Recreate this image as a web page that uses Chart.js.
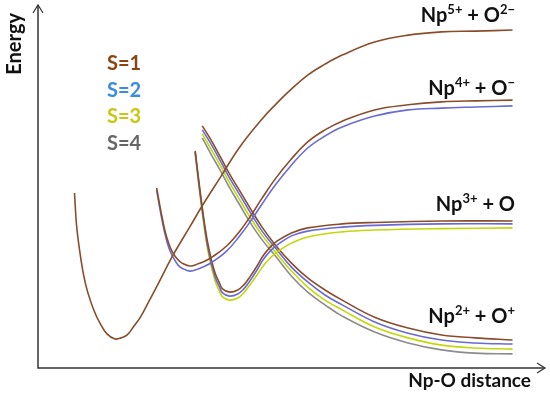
<!DOCTYPE html>
<html lang="en">
<head>
  <meta charset="UTF-8" />
  <title>Np-O potential energy curves</title>
  <script src="https://cdn.jsdelivr.net/npm/chart.js"></script>
  <style>
    body {
      margin: 0;
      background: #ffffff;
    }
    #wrap {
      width: 550px;
      height: 399px;
      position: relative;
    }
  </style>
</head>
<body>
  <div id="wrap"><canvas id="grafico"></canvas></div>

  <script>
    // Np-O distance (arbitrary units) and energy (arbitrary units)
    // Np5+ + O2- branch (S=1 only)
    const xNp5 = [1.36, 1.38, 1.41, 1.45, 1.49, 1.55, 1.61, 1.68, 1.76, 1.82, 1.88, 1.94, 2.01, 2.10, 2.20, 2.33, 2.50, 2.62, 2.80, 2.99, 3.21, 3.34, 3.49, 3.66, 3.83, 4.00, 4.32, 4.65, 4.98, 5.31, 5.68];
    const eNp5_S1 = [4.82, 3.94, 3.25, 2.56, 2.09, 1.60, 1.24, 0.94, 0.80, 0.83, 0.91, 1.13, 1.40, 1.87, 2.40, 3.10, 3.90, 4.47, 5.26, 6.09, 6.86, 7.25, 7.66, 8.07, 8.37, 8.62, 8.98, 9.17, 9.26, 9.28, 9.31];

    // Np4+ + O- branch (S=1, S=2)
    const xNp4 = [2.17, 2.21, 2.25, 2.29, 2.33, 2.38, 2.42, 2.50, 2.58, 2.65, 2.72, 2.86, 2.99, 3.09, 3.21, 3.34, 3.49, 3.66, 3.83, 4.00, 4.32, 4.65, 4.98, 5.31, 5.68];
    const eNp4_S1 = [4.96, 4.35, 3.80, 3.42, 3.17, 2.98, 2.89, 2.81, 2.87, 2.95, 3.06, 3.36, 3.77, 4.16, 4.68, 5.21, 5.73, 6.23, 6.56, 6.80, 7.11, 7.25, 7.33, 7.36, 7.38];
    const eNp4_S2 = [4.90, 4.27, 3.72, 3.31, 3.06, 2.84, 2.75, 2.67, 2.73, 2.81, 2.92, 3.22, 3.64, 4.02, 4.52, 5.04, 5.56, 6.06, 6.39, 6.64, 6.94, 7.11, 7.16, 7.19, 7.22];

    // Np3+ + O branch (S=1, S=2, S=3)
    const xNp3 = [2.55, 2.58, 2.61, 2.64, 2.67, 2.71, 2.75, 2.79, 2.82, 2.89, 2.97, 3.03, 3.09, 3.16, 3.22, 3.29, 3.36, 3.50, 3.66, 4.00, 4.32, 4.98, 5.68];
    const eNp3_S1 = [5.98, 5.29, 4.63, 4.02, 3.50, 2.98, 2.59, 2.34, 2.18, 2.09, 2.15, 2.29, 2.51, 2.81, 3.09, 3.33, 3.50, 3.72, 3.86, 3.97, 4.01, 4.05, 4.05];
    const eNp3_S2 = [5.95, 5.23, 4.56, 3.94, 3.39, 2.88, 2.48, 2.23, 2.07, 1.98, 2.04, 2.18, 2.40, 2.70, 2.98, 3.22, 3.39, 3.64, 3.77, 3.88, 3.93, 3.97, 3.97];
    const eNp3_S3 = [5.92, 5.18, 4.49, 3.86, 3.31, 2.78, 2.37, 2.12, 1.96, 1.87, 1.93, 2.07, 2.29, 2.56, 2.81, 3.03, 3.20, 3.44, 3.61, 3.75, 3.80, 3.84, 3.86];

    // Np2+ + O+ branch (S=1..4)
    const xNp2 = [2.62, 2.70, 2.80, 2.89, 2.99, 3.09, 3.21, 3.34, 3.50, 3.66, 3.83, 4.00, 4.32, 4.65, 4.98, 5.31, 5.68];
    const eNp2_S1 = [6.67, 6.31, 5.81, 5.34, 4.88, 4.41, 3.88, 3.39, 2.89, 2.48, 2.15, 1.87, 1.40, 1.10, 0.91, 0.83, 0.77];
    const eNp2_S2 = [6.56, 6.20, 5.70, 5.23, 4.77, 4.30, 3.77, 3.31, 2.78, 2.37, 2.01, 1.74, 1.27, 0.96, 0.77, 0.69, 0.66];
    const eNp2_S3 = [6.45, 6.06, 5.57, 5.10, 4.63, 4.16, 3.66, 3.20, 2.67, 2.23, 1.87, 1.60, 1.13, 0.83, 0.63, 0.55, 0.52];
    const eNp2_S4 = [6.34, 5.92, 5.43, 4.96, 4.49, 4.02, 3.53, 3.09, 2.53, 2.09, 1.74, 1.43, 0.99, 0.69, 0.50, 0.41, 0.39];

    const spinLabels = ['S=1', 'S=2', 'S=3', 'S=4'];
    const lineColors = ['#8a4d2c', '#6a6ad6', '#c2d80a', '#8c8c8c'];
    const textColors = ['#8b4513', '#3b8be0', '#c8c814', '#666666'];

    // asymptote labels: [text, isSuperscript]
    const asymptotes = [
      { energy: 9.31, parts: [['Np', 0], ['5+', 1], [' + O', 0], ['2\u2212', 1]] },
      { energy: 7.38, parts: [['Np', 0], ['4+', 1], [' + O', 0], ['\u2212', 1]] },
      { energy: 4.05, parts: [['Np', 0], ['3+', 1], [' + O', 0]] },
      { energy: 0.77, parts: [['Np', 0], ['2+', 1], [' + O', 0], ['+', 1]] }
    ];

    function pts(xs, ys) {
      return xs.map((x, i) => ({ x: x, y: ys[i] }));
    }

    function curve(label, xs, ys, s) {
      return {
        label: label + ' ' + spinLabels[s],
        data: pts(xs, ys),
        borderColor: lineColors[s],
        borderWidth: 1.6,
        pointRadius: 0,
        fill: false,
        tension: 0.4
      };
    }

    const datasets = [
      curve('Np5+ + O2-', xNp5, eNp5_S1, 0),
      curve('Np4+ + O-', xNp4, eNp4_S1, 0),
      curve('Np4+ + O-', xNp4, eNp4_S2, 1),
      curve('Np3+ + O', xNp3, eNp3_S1, 0),
      curve('Np3+ + O', xNp3, eNp3_S2, 1),
      curve('Np3+ + O', xNp3, eNp3_S3, 2),
      curve('Np2+ + O+', xNp2, eNp2_S1, 0),
      curve('Np2+ + O+', xNp2, eNp2_S2, 1),
      curve('Np2+ + O+', xNp2, eNp2_S3, 2),
      curve('Np2+ + O+', xNp2, eNp2_S4, 3)
    ];

    const FONT = 'Lato, "Open Sans", sans-serif';

    function drawIon(ctx, parts, xRight, baseline) {
      const big = 'bold 20px ' + FONT;
      const small = 'bold 13px ' + FONT;
      let total = 0;
      parts.forEach(p => {
        ctx.font = p[1] ? small : big;
        total += ctx.measureText(p[0]).width;
      });
      let x = xRight - total;
      parts.forEach(p => {
        ctx.font = p[1] ? small : big;
        ctx.fillText(p[0], x, p[1] ? baseline - 8 : baseline);
        x += ctx.measureText(p[0]).width;
      });
    }

    const decor = {
      id: 'decor',
      afterDraw(chart) {
        const ctx = chart.ctx;
        const a = chart.chartArea;
        ctx.save();
        // axes with arrow heads
        ctx.strokeStyle = '#333333';
        ctx.lineWidth = 1.5;
        ctx.beginPath();
        ctx.moveTo(a.left, a.top);
        ctx.lineTo(a.left, a.bottom);
        ctx.lineTo(a.right, a.bottom);
        ctx.stroke();
        ctx.lineWidth = 1.2;
        ctx.beginPath();
        ctx.moveTo(a.left - 5, a.top + 8);
        ctx.lineTo(a.left, a.top);
        ctx.lineTo(a.left + 5, a.top + 8);
        ctx.moveTo(a.right - 8, a.bottom - 5);
        ctx.lineTo(a.right, a.bottom);
        ctx.lineTo(a.right - 8, a.bottom + 5);
        ctx.stroke();

        ctx.fillStyle = '#111111';
        ctx.textBaseline = 'alphabetic';
        // axis titles
        ctx.font = 'bold 19px ' + FONT;
        ctx.textAlign = 'right';
        ctx.fillText('Np-O distance', a.right - 14, a.bottom + 19);
        ctx.save();
        ctx.font = 'bold 20px ' + FONT;
        ctx.translate(21, 13);
        ctx.rotate(-Math.PI / 2);
        ctx.textAlign = 'right';
        ctx.fillText('Energy', 0, 0);
        ctx.restore();

        // asymptote labels
        ctx.textAlign = 'left';
        const y = chart.scales.y;
        const offs = [8, 5, 10, 17];
        asymptotes.forEach((as, i) => {
          drawIon(ctx, as.parts, 515, y.getPixelForValue(as.energy) - offs[i]);
        });

        // spin legend
        ctx.font = 'bold 20px ' + FONT;
        spinLabels.forEach((s, i) => {
          ctx.fillStyle = textColors[i];
          ctx.fillText(s, 107, 70 + i * 26.7);
        });
        ctx.restore();
      }
    };

    new Chart(document.getElementById('grafico').getContext('2d'), {
      type: 'line',
      data: { datasets: datasets },
      options: {
        responsive: true,
        maintainAspectRatio: false,
        animation: false,
        layout: { padding: { left: 38, top: 5, right: 5, bottom: 31 } },
        plugins: {
          legend: { display: false },
          tooltip: { enabled: false }
        },
        scales: {
          x: { type: 'linear', min: 1, max: 6, display: false },
          y: { type: 'linear', min: 0, max: 10, display: false }
        }
      },
      plugins: [decor]
    });
  </script>
</body>
</html>
